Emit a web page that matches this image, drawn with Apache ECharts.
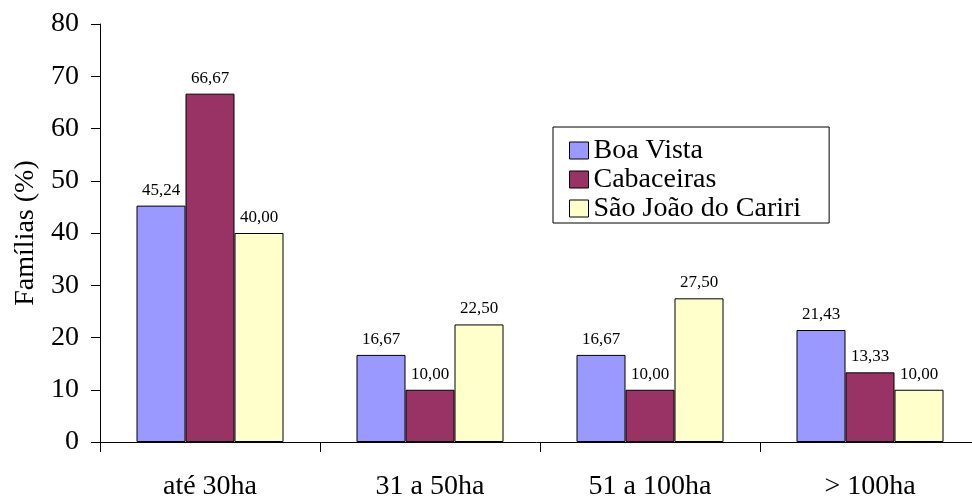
<!DOCTYPE html>
<html><head><meta charset="utf-8">
<script src="https://cdn.jsdelivr.net/npm/echarts@6/dist/echarts.min.js"></script>
<style>html,body{margin:0;padding:0;background:#fff}#c{width:972px;height:498px}</style>
</head><body><div id="c"></div>
<script>
const categories = ['até 30ha', '31 a 50ha', '51 a 100ha', '> 100ha'];
const boaVista = [45.24, 16.67, 16.67, 21.43];
const cabaceiras = [66.67, 10.00, 10.00, 13.33];
const saoJoao = [40.00, 22.50, 27.50, 10.00];
const seriesNames = ['Boa Vista', 'Cabaceiras', 'São João do Cariri'];
const yTicks = { min: 0, max: 80, interval: 10 };

const font = 'Liberation Serif';
function mk(name, data, color) {
  return {
    name, type: 'bar', data, barWidth: 49, barGap: '0%',
    itemStyle: { color, borderColor: '#000', borderWidth: 1 },
    label: { show: true, position: 'top', distance: 7, fontFamily: font, fontSize: 17, color: '#000',
      formatter: p => p.value.toFixed(2).replace('.', ',') }
  };
}
const chart = echarts.init(document.getElementById('c'));
chart.setOption({
  animation: false,
  textStyle: { fontFamily: font },
  grid: { left: 100, right: -8, top: 24, bottom: 56, containLabel: false, outerBoundsMode: 'none' },
  legend: {
    orient: 'vertical', left: 553, top: 127,
    data: seriesNames, icon: 'rect',
    borderColor: '#000', borderWidth: 1, borderRadius: 0,
    padding: [9, 28, 0, 16], itemGap: 0, itemWidth: 19, itemHeight: 17,
    textStyle: { fontFamily: font, fontSize: 28, lineHeight: 29, color: '#000', padding: [0, 0, 0, 0] },
    itemStyle: { borderColor: '#000', borderWidth: 1 }
  },
  xAxis: {
    type: 'category', data: categories,
    axisLine: { lineStyle: { color: '#000', width: 1 } },
    axisTick: { show: true, length: 10, lineStyle: { color: '#000' } },
    axisLabel: { fontFamily: font, fontSize: 28, color: '#000', margin: 31 }
  },
  yAxis: {
    type: 'value', min: yTicks.min, max: yTicks.max, interval: yTicks.interval,
    name: 'Famílias (%)', nameLocation: 'middle', nameGap: 58, nameRotate: 90,
    nameTextStyle: { fontFamily: font, fontSize: 28, color: '#000' },
    axisLine: { show: true, lineStyle: { color: '#000', width: 1 } },
    axisTick: { show: true, length: 9, lineStyle: { color: '#000' } },
    splitLine: { show: false },
    axisLabel: { fontFamily: font, fontSize: 28, color: '#000', margin: 21 }
  },
  series: [
    mk(seriesNames[0], boaVista, '#9999FF'),
    mk(seriesNames[1], cabaceiras, '#993366'),
    mk(seriesNames[2], saoJoao, '#FFFFCC')
  ]
});
</script></body></html>
